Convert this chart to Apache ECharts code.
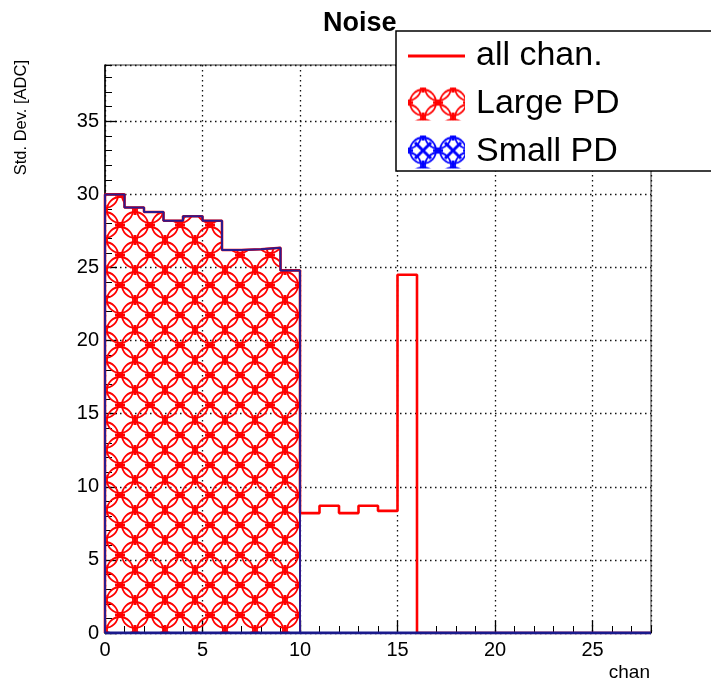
<!DOCTYPE html>
<html>
<head>
<meta charset="utf-8">
<script src="https://cdn.jsdelivr.net/npm/echarts@6/dist/echarts.min.js"></script>
</head>
<body style="margin:0;background:#fff">
<div id="main" style="width:711px;height:684px;"></div>
<script type="text/javascript">

    // channel bins 0..27, each bin is 1 wide
    var nBins = 28;
    var allChan = [30.0, 29.1, 28.8, 28.2, 28.5, 28.2, 26.2, 26.25, 26.35, 24.8,
                   8.2, 8.7, 8.2, 8.7, 8.35, 24.5, 0, 0, 0, 0,
                   0, 0, 0, 0, 0, 0, 0, 0];
    var largePD = [30.0, 29.1, 28.8, 28.2, 28.5, 28.2, 26.2, 26.25, 26.35, 24.8,
                   0, 0, 0, 0, 0, 0, 0, 0, 0, 0,
                   0, 0, 0, 0, 0, 0, 0, 0];
    var smallPD = [0, 0, 0, 0, 0, 0, 0, 0, 0, 0,
                   0, 0, 0, 0, 0, 0, 0, 0, 0, 0,
                   0, 0, 0, 0, 0, 0, 0, 0];
    var seriesNames = ['all chan.', 'Large PD', 'Small PD'];
    var yMax = 38.85;

    // histogram -> step outline
    function steps(vals) {
        var pts = [[0, 0]];
        for (var i = 0; i < vals.length; i++) {
            pts.push([i, vals[i]]);
            pts.push([i + 1, vals[i]]);
        }
        pts.push([vals.length, 0]);
        return pts;
    }

    // hatch patterns (ROOT-like interlocked circles)
    function makePattern(color, cross) {
        var s = 30, r = 13;
        var c = document.createElement('canvas');
        c.width = s; c.height = s;
        var g = c.getContext('2d');
        g.strokeStyle = color;
        g.lineWidth = 1.8;
        var centers = [[0, 0], [s, 0], [0, s], [s, s], [s / 2, s / 2]];
        for (var i = 0; i < centers.length; i++) {
            g.beginPath();
            g.arc(centers[i][0], centers[i][1], r, 0, Math.PI * 2);
            g.stroke();
        }
        g.lineWidth = 3;
        g.beginPath();
        g.moveTo(s / 2, -5); g.lineTo(s / 2, 5);
        g.moveTo(s / 2, s - 5); g.lineTo(s / 2, s + 5);
        g.moveTo(-5, s / 2); g.lineTo(5, s / 2);
        g.moveTo(s - 5, s / 2); g.lineTo(s + 5, s / 2);
        if (cross) {
            g.moveTo(7, 7); g.lineTo(s - 7, s - 7);
            g.moveTo(s - 7, 7); g.lineTo(7, s - 7);
        }
        g.stroke();
        return c;
    }
    var redPat = {image: makePattern('#ff0000', false), repeat: 'repeat'};
    var bluePat = {image: makePattern('#0000ff', true), repeat: 'repeat'};

    var myChart = echarts.init(document.getElementById('main'));

    var font = 'Liberation Sans, Arial, Helvetica, sans-serif';
    // thin line icon, bbox kept at 57x33
    var lineIcon = 'path://M0,0h0.1v0.1h-0.1z M0,15h57v3h-57z M56.9,32.9h0.1v0.1h-0.1z';

    var option = {
        animation: false,
        backgroundColor: '#fff',
        title: {
            text: 'Noise',
            left: 318,
            top: 5,
            textStyle: {fontFamily: font, fontSize: 27, fontWeight: 'bold', color: '#000'}
        },
        legend: {
            orient: 'vertical',
            left: 396,
            top: 31,
            padding: [8, 150, 2, 12],
            itemGap: 14,
            itemWidth: 57,
            itemHeight: 33,
            backgroundColor: '#fff',
            borderColor: '#000',
            borderWidth: 1.5,
            selectedMode: false,
            textStyle: {fontFamily: font, fontSize: 34, lineHeight: 33, color: '#000', padding: [0, 0, 0, 6]},
            data: [
                {name: seriesNames[0], icon: lineIcon, itemStyle: {color: '#ff0000'}},
                {name: seriesNames[1], icon: 'rect', itemStyle: {color: redPat}},
                {name: seriesNames[2], icon: 'rect', itemStyle: {color: bluePat}}
            ]
        },
        grid: {
            left: 105,
            right: 60,
            top: 65,
            bottom: 51,
            show: true,
            borderColor: '#333',
            borderWidth: 1,
            backgroundColor: 'transparent'
        },
        xAxis: [
            {
                type: 'value', min: 0, max: nBins, interval: 5,
                axisLine: {lineStyle: {color: '#000', width: 1.5}},
                axisTick: {inside: true, length: 12, lineStyle: {color: '#000', width: 1.3}},
                axisLabel: {fontFamily: font, fontSize: 20, color: '#000', margin: 7, showMaxLabel: false},
                splitLine: {show: true, lineStyle: {color: '#111', width: 1.3, type: [1.5, 3.5]}}
            },
            {
                type: 'value', min: 0, max: nBins, interval: 1, position: 'bottom',
                axisLine: {show: false},
                axisTick: {inside: true, length: 7, lineStyle: {color: '#000', width: 1}},
                axisLabel: {show: false},
                splitLine: {show: false}
            }
        ],
        yAxis: [
            {
                type: 'value', min: 0, max: yMax, interval: 5, position: 'left',
                axisLine: {show: true, lineStyle: {color: '#000', width: 1.5}},
                axisTick: {show: true, inside: true, length: 12, lineStyle: {color: '#000', width: 1.3}},
                axisLabel: {fontFamily: font, fontSize: 20, color: '#000', margin: 6, showMaxLabel: false},
                splitLine: {show: true, lineStyle: {color: '#111', width: 1.3, type: [1.5, 3.5]}}
            },
            {
                type: 'value', min: 0, max: yMax, interval: 1, position: 'left',
                axisLine: {show: false},
                axisTick: {show: true, inside: true, length: 7, lineStyle: {color: '#000', width: 1}},
                axisLabel: {show: false},
                splitLine: {show: false}
            }
        ],
        graphic: [
            {
                type: 'text', x: 21, y: 60, rotation: Math.PI / 2,
                style: {text: 'Std. Dev. [ADC]', fill: '#000', font: '16.5px ' + font,
                        align: 'right', verticalAlign: 'middle'}
            },
            {
                type: 'text', x: 650, y: 673,
                style: {text: 'chan', fill: '#000', font: '19px ' + font,
                        align: 'right', verticalAlign: 'middle'}
            }
        ],
        series: [
            {
                name: seriesNames[0],
                type: 'line',
                data: steps(allChan),
                symbol: 'none',
                lineStyle: {color: '#ff0000', width: 2.6},
                itemStyle: {color: '#ff0000'},
                z: 2
            },
            {
                name: seriesNames[1],
                type: 'line',
                data: steps(largePD),
                symbol: 'none',
                lineStyle: {color: '#2e1a8c', width: 2},
                itemStyle: {color: '#2e1a8c'},
                areaStyle: {color: redPat, opacity: 1},
                z: 3
            },
            {
                name: seriesNames[2],
                type: 'line',
                data: steps(smallPD),
                symbol: 'none',
                lineStyle: {color: '#1a1a8c', width: 3},
                itemStyle: {color: '#1a1a8c'},
                areaStyle: {color: bluePat, opacity: 1},
                z: 4
            }
        ]
    };
    myChart.setOption(option);
</script>
</body>
</html>
